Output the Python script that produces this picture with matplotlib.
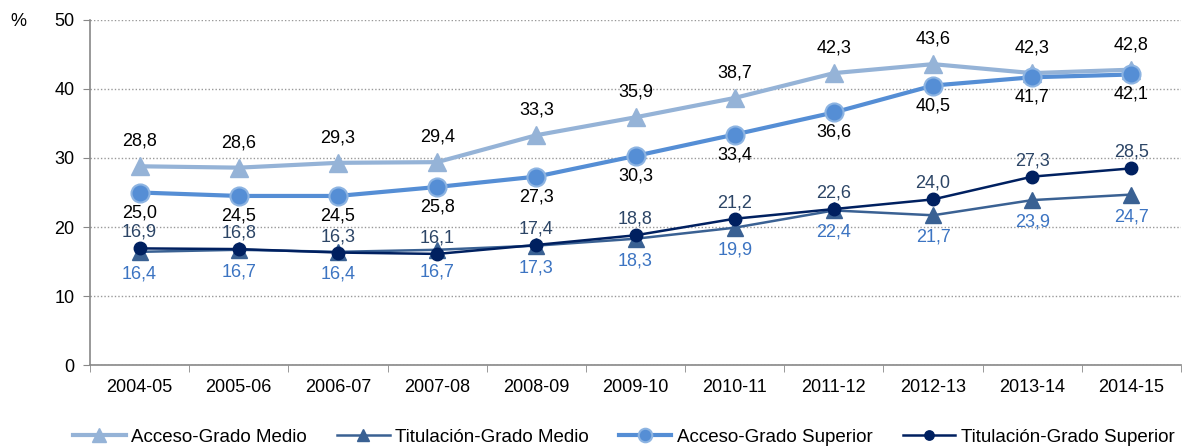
import matplotlib
matplotlib.use("Agg")
import matplotlib.pyplot as plt

plt.rcParams['font.family'] = ['Liberation Sans', 'DejaVu Sans']

years = ["2004-05", "2005-06", "2006-07", "2007-08", "2008-09", "2009-10",
         "2010-11", "2011-12", "2012-13", "2013-14", "2014-15"]
acceso_gm = [28.8, 28.6, 29.3, 29.4, 33.3, 35.9, 38.7, 42.3, 43.6, 42.3, 42.8]
titulacion_gm = [16.4, 16.7, 16.4, 16.7, 17.3, 18.3, 19.9, 22.4, 21.7, 23.9, 24.7]
acceso_gs = [25.0, 24.5, 24.5, 25.8, 27.3, 30.3, 33.4, 36.6, 40.5, 41.7, 42.1]
titulacion_gs = [16.9, 16.8, 16.3, 16.1, 17.4, 18.8, 21.2, 22.6, 24.0, 27.3, 28.5]

fig = plt.figure(figsize=(11.84, 4.47), dpi=100)
ax = fig.add_axes([0.076, 0.1834, 0.9215, 0.7719])

x = list(range(len(years)))

ax.plot(x, acceso_gm, color="#95B3D7", lw=3, marker="^", ms=13,
        markeredgecolor="#95B3D7", label="Acceso-Grado Medio", zorder=3)
ax.plot(x, titulacion_gm, color="#3A6193", lw=1.8, marker="^", ms=11,
        markeredgecolor="#3A6193", label="Titulación-Grado Medio", zorder=4)
ax.plot(x, acceso_gs, color="#558ED5", lw=3, marker="o", ms=13,
        markeredgecolor="#8DB4E2", markeredgewidth=1.5, label="Acceso-Grado Superior", zorder=3)
ax.plot(x, titulacion_gs, color="#002060", lw=1.8, marker="o", ms=9,
        markeredgecolor="#002060", label="Titulación-Grado Superior", zorder=5)

def fmt(v):
    return f"{v:.1f}".replace(".", ",")

LS = 13
for xi, v in zip(x, acceso_gm):
    ax.annotate(fmt(v), (xi, v), xytext=(0, 25), textcoords="offset pixels",
                ha="center", va="center", fontsize=LS, color="black")
for xi, v in zip(x, acceso_gs):
    ax.annotate(fmt(v), (xi, v), xytext=(0, -20), textcoords="offset pixels",
                ha="center", va="center", fontsize=LS, color="black")
for xi, v in zip(x, titulacion_gs):
    ax.annotate(fmt(v), (xi, v), xytext=(0, 16), textcoords="offset pixels",
                ha="center", va="center", fontsize=LS, color="#2C4566")
for xi, v in zip(x, titulacion_gm):
    ax.annotate(fmt(v), (xi, v), xytext=(0, -22), textcoords="offset pixels",
                ha="center", va="center", fontsize=LS, color="#3C74C2")

ax.set_xlim(-0.5, len(years) - 0.5)
ax.set_ylim(0, 50)
ax.set_yticks([0, 10, 20, 30, 40, 50])
ax.set_xticks(x)
ax.set_xticklabels(years)
ax.set_xticks([i - 0.5 for i in range(len(years) + 1)], minor=True)
ax.tick_params(axis="x", which="major", length=0, labelsize=13, pad=10)
ax.tick_params(axis="x", which="minor", length=5, color="#888888")
ax.tick_params(axis="y", length=5, color="#888888", labelsize=13, pad=6)

ax.grid(axis="y", linestyle=(0, (1, 1.5)), color="#999999", lw=1)
ax.set_axisbelow(True)
for s in ["top", "right"]:
    ax.spines[s].set_visible(False)
for s in ["left", "bottom"]:
    ax.spines[s].set_color("#888888")
    ax.spines[s].set_linewidth(1.2)

fig.text(10 / 1184, 1 - 22 / 447, "%", fontsize=13, ha="left", va="center")

fig.legend(loc="lower center", bbox_to_anchor=(0.527, -0.035), ncol=4, frameon=False,
           fontsize=13.5, handlelength=2.8, columnspacing=1.6, handletextpad=0.3,
           markerscale=0.75)

fig.savefig("out.png", dpi=100)
